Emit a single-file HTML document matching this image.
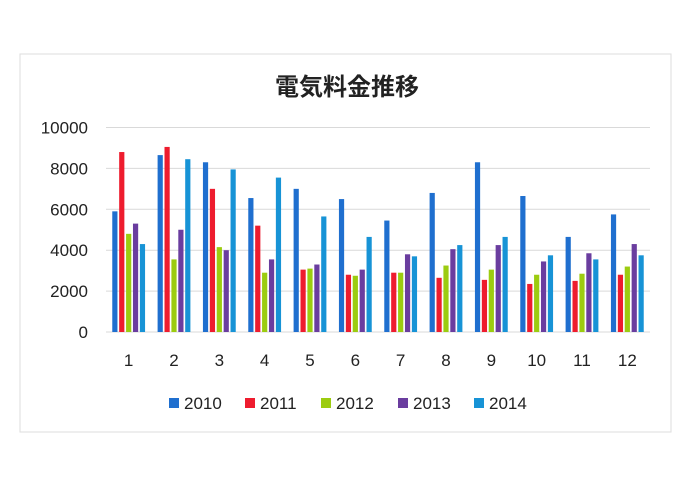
<!DOCTYPE html>
<html><head><meta charset="utf-8"><style>
body{margin:0;background:#fff;width:700px;height:474px;overflow:hidden}
svg text{font-family:"Liberation Sans","Noto Sans CJK JP",sans-serif}
</style></head><body>
<svg width="700" height="474">
<rect x="20" y="54" width="651" height="378" fill="#fff" stroke="#ddd"/>
<text x="347" y="95" text-anchor="middle" font-size="24" font-weight="bold" fill="#222">電気料金推移</text>
<g id="grid"></g><g id="bars"></g><g id="xl"></g><g id="legend"></g>
</svg>
<script>
const categories=["1","2","3","4","5","6","7","8","9","10","11","12"];
const years=["2010","2011","2012","2013","2014"];
const colors=["#1f6fcf","#ee1c2e","#9ccc10","#6a3d9f","#1793d6"];
const s2010=[5900,8650,8300,6550,7000,6500,5450,6800,8300,6650,4650,5750];
const s2011=[8800,9050,7000,5200,3050,2800,2900,2650,2550,2350,2500,2800];
const s2012=[4800,3550,4150,2900,3100,2750,2900,3250,3050,2800,2850,3200];
const s2013=[5300,5000,4000,3550,3300,3050,3800,4050,4250,3450,3850,4300];
const s2014=[4300,8450,7950,7550,5650,4650,3700,4250,4650,3750,3550,3750];
const yTicks=[0,2000,4000,6000,8000,10000];
const series=[s2010,s2011,s2012,s2013,s2014];
const NS="http://www.w3.org/2000/svg";
const x0=106,x1=650,y0=332,yTop=127.5,yMax=10000;
const yS=v=>y0-(v/yMax)*(y0-yTop);
const gw=(x1-x0)/categories.length;
function mk(t,a,p){const e=document.createElementNS(NS,t);for(const k in a)e.setAttribute(k,a[k]);p.appendChild(e);return e;}
const grid=document.getElementById('grid');
yTicks.forEach(v=>{
 const l=mk('line',{x1:x0,x2:x1,y1:yS(v),y2:yS(v),stroke:'#d9d9d9','stroke-width':1},grid);
 
 
 const t=mk('text',{x:88,y:yS(v)+6,'text-anchor':'end','font-size':17,fill:'#222'},grid);
 t.textContent=v;
 
 
});
const bars=document.getElementById('bars'),xl=document.getElementById('xl');
const bw=5.2,step=6.9;
categories.forEach((c,i)=>{
 const cx=x0+gw*(i+0.5);
 series.forEach((s,j)=>{
  const x=cx+(j-2)*step-bw/2;
  const r=mk('rect',{x:x,y:yS(s[i]),width:bw,height:y0-yS(s[i]),fill:colors[j]},bars);
  
  
 });
 const t=mk('text',{x:cx,y:366,'text-anchor':'middle','font-size':17,fill:'#222'},xl);
 t.textContent=c;
 
 
});
const lg=document.getElementById('legend');
const lx=[169,245,321,398,474];
years.forEach((y,j)=>{
 const g=mk('g',{},lg);
 
 
 mk('rect',{x:lx[j],y:398,width:10,height:10,fill:colors[j]},g);
 const t=mk('text',{x:lx[j]+15,y:409,'font-size':17,fill:'#222'},g);
 t.textContent=y;
});
</script>
</body></html>
